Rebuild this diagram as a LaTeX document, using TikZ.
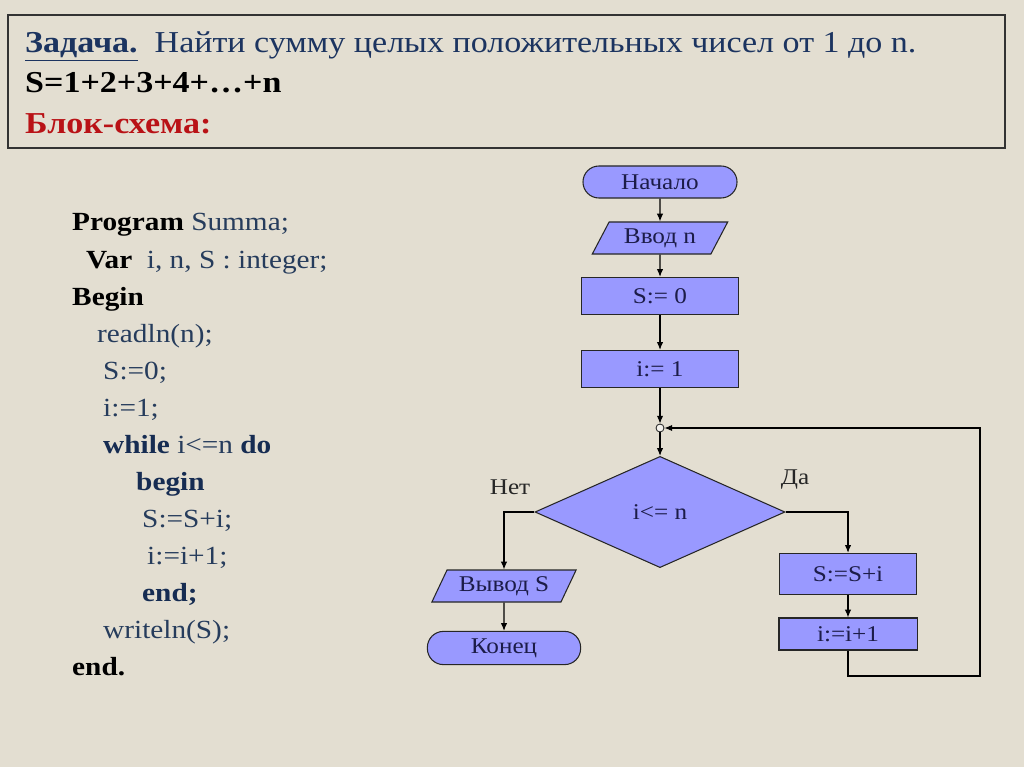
\documentclass[tikz,border=0pt]{standalone}
\usepackage{fontspec}
\setmainfont{Liberation Serif}[FakeStretch=1.12]
\usepackage{xcolor}
\usetikzlibrary{shapes.geometric,arrows.meta}
\definecolor{bgc}{RGB}{227,222,209}
\definecolor{ttl}{RGB}{28,52,96}
\definecolor{codec}{RGB}{38,60,92}
\definecolor{kwb}{RGB}{22,44,82}
\definecolor{redc}{RGB}{185,18,22}
\definecolor{boxc}{RGB}{153,153,255}
\definecolor{fct}{RGB}{28,28,72}

\begin{document}
\begin{tikzpicture}[x=0.025cm,y=-0.025cm,>={Latex[length=5.5pt,width=4.5pt]},line width=0.75pt,
  blk/.style={draw=black!85,fill=boxc,text=fct,font=\fontsize{16}{18}\selectfont,inner sep=0pt},
  term/.style={blk,rectangle,rounded corners=0.4cm,minimum width=3.85cm,minimum height=0.8cm},
  io/.style={blk,trapezium,trapezium left angle=58,trapezium right angle=122,trapezium stretches=true,minimum height=0.8cm},
  proc/.style={blk,rectangle,minimum width=3.93cm,minimum height=0.93cm},
  ln/.style={anchor=base west,text=codec,font=\fontsize{18.6}{21}\selectfont},
  kw/.style={ln,text=kwb,font=\fontsize{18.6}{21}\selectfont\bfseries},
  tl/.style={anchor=base west,font=\fontsize{21.6}{24}\selectfont}]
\fill[bgc] (0,0) rectangle (1024,767);
\useasboundingbox (0,0) rectangle (1024,767);
\draw[black!80,line width=1.1pt] (8,15) rectangle (1005,148);
\node[tl,text=ttl] (t1) at (20,53) {\underline{\textbf{Задача.}}\ \ Найти сумму целых положительных чисел от 1 до n.};
\node[tl,font=\fontsize{21.6}{24}\selectfont\bfseries] (t2) at (20,93) {S=1+2+3+4+…+n};
\node[tl,text=redc,font=\fontsize{21.6}{24}\selectfont\bfseries] (t3) at (20,134) {Блок-схема:};
\node[ln] (c1) at (67,231) {\textbf{\color{black}Program} Summa;};
\node[ln] (c2) at (81,268) {\textbf{\color{black}Var}\ \ i, n, S : integer;};
\node[ln,text=black,font=\fontsize{18.6}{21}\selectfont\bfseries] (c3) at (67,305) {Begin};
\node[ln] (c4) at (92,342) {readln(n);};
\node[ln] (c5) at (98,379) {S:=0;};
\node[ln] (c6) at (98,416) {i:=1;};
\node[ln] (c7) at (98,453) {\textbf{\color{kwb}while} i<=n \textbf{\color{kwb}do}};
\node[kw] (c8) at (131,490) {begin};
\node[ln] (c9) at (137,527) {S:=S+i;};
\node[ln] (c10) at (142,564) {i:=i+1;};
\node[kw] (c11) at (137,601) {end;};
\node[ln] (c12) at (98,638) {writeln(S);};
\node[ln,text=black,font=\fontsize{18.6}{21}\selectfont\bfseries] (c13) at (67,675) {end.};
\node[term] (start) at (660,182) {Начало};
\node[io,minimum width=3.4cm] (inp) at (660,238) {Ввод n};
\node[proc] (s0) at (660,296) {S:= 0};
\node[proc] (i1) at (660,369) {i:= 1};
\node[circle,draw=black!85,fill=bgc!40!white,inner sep=0pt,minimum size=0.2cm,line width=0.6pt] (jn) at (660,428) {};
\node[blk,diamond,aspect=2.25,minimum width=6.25cm,minimum height=2.78cm] (cond) at (660,512) {i<= n};
\node[io,minimum width=3.63cm] (outp) at (504,586) {Вывод S};
\node[term,minimum width=3.83cm,minimum height=0.83cm] (stop) at (504,648) {Конец};
\node[proc,minimum width=3.43cm,minimum height=1.03cm] (sum) at (848,574) {S:=S+i};
\node[proc,minimum width=3.45cm,minimum height=0.8cm] (inc) at (848,634) {i:=i+1};
\node[text=black!85,font=\fontsize{16}{18}\selectfont] (no) at (510,487) {Нет};
\node[text=black!85,font=\fontsize{16}{18}\selectfont] (yes) at (795,480) {Да};
\coordinate (rb) at (980,676);
\draw[->] (start) -- (inp); \draw[->] (inp) -- (s0); \draw[->] (s0) -- (i1);
\draw[->] (i1) -- (jn); \draw[->] (jn) -- (cond);
\draw[->] (cond.west) -| (outp.north); \draw[->] (outp) -- (stop);
\draw[->] (cond.east) -| (sum.north); \draw[->] (sum) -- (inc);
\draw[->] (inc.south) |- (rb) |- (jn.east);
\end{tikzpicture}
\end{document}
